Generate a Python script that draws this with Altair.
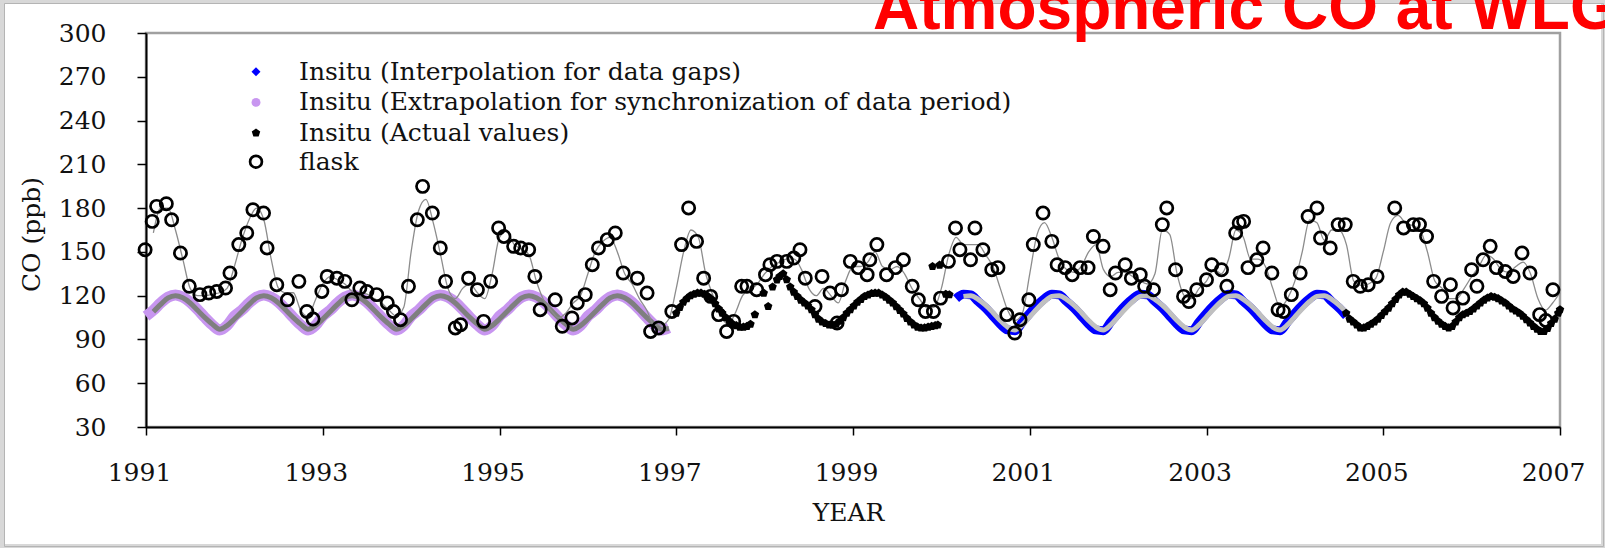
import altair as alt
import pandas as pd

# ---------------- layout ----------------
W, H = 1414, 394
PAD = {"left": 146, "top": 33, "right": 45, "bottom": 121}
FONT = "DejaVu Serif"
FS = 25

TITLE = "Atmospheric CO at WLG"
X_TICKS = [1991, 1993, 1995, 1997, 1999, 2001, 2003, 2005, 2007]
Y_TICKS = [30, 60, 90, 120, 150, 180, 210, 240, 270, 300]
LEGEND_LABELS = [
    "Insitu (Interpolation for data gaps)",
    "Insitu (Extrapolation for synchronization of data period)",
    "Insitu (Actual values)",
    "flask",
]


def months(start_year, first_month, n):
    return [round(start_year + (first_month + i) / 12, 4) for i in range(n)]


# ---------------- data ----------------
# purple: extrapolated insitu, monthly 1991.0 - 1996.92
PURPLE_YEAR = months(1991, 0, 72)
PURPLE_CO = [
    106, 110, 115, 119, 120.5, 119, 115.5, 110.5, 105, 100, 96.5, 99.5,
    106, 110, 115, 119, 120.5, 119, 115.5, 110.5, 105, 100, 96.5, 99.5,
    106, 110, 115, 119, 120.5, 119, 115.5, 110.5, 105, 100, 96.5, 99.5,
    106, 110, 115, 119, 120.5, 119, 115.5, 110.5, 105, 100, 96.5, 99.5,
    106, 110, 115, 119, 120.5, 119, 115.5, 110.5, 105, 100, 96.5, 99.5,
    106, 110, 115, 119, 120.5, 119, 115.5, 110.5, 105, 100, 96.5, 98,
]
# dark grey smooth curve, monthly 1991.08 - 1996.92
DARK_YEAR = months(1991, 1, 71)
DARK_CO = [
    109, 114, 118.5, 120, 118.5, 115, 110, 105, 100.5, 97, 99.5,
    104, 109, 114, 118.5, 120, 118.5, 115, 110, 105, 100.5, 97, 99.5,
    104, 109, 114, 118.5, 120, 118.5, 115, 110, 105, 100.5, 97, 99.5,
    104, 109, 114, 118.5, 120, 118.5, 115, 110, 105, 100.5, 97, 99.5,
    104, 109, 114, 118.5, 120, 118.5, 115, 110, 105, 100.5, 97, 99.5,
    104, 109, 114, 118.5, 120, 118.5, 115, 110, 105, 100.5, 97, 97.5,
]
# blue: interpolated insitu, monthly 2000.17 - 2004.58
BLUE_YEAR = months(2000, 2, 54)
BLUE_CO = [
    118, 121, 120.5, 116, 111.5, 106, 100.5, 96.5, 96, 102,
    108, 113.5, 118, 121, 120.5, 116, 111.5, 106, 100.5, 96.5, 96, 102,
    108, 113.5, 118, 121, 120.5, 116, 111.5, 106, 100.5, 96.5, 96, 102,
    108, 113.5, 118, 121, 120.5, 116, 111.5, 106, 100.5, 96.5, 96, 102,
    108, 113.5, 118, 121, 120.5, 116, 111.5, 106,
]
# light grey smooth curve, monthly 2000.25 - 2004.58
LIGHT_YEAR = months(2000, 3, 53)
LIGHT_CO = [
    119.5, 120, 117.5, 113.5, 108.5, 103, 98.5, 96.5, 100,
    105.5, 111, 116, 119.5, 120, 117.5, 113.5, 108.5, 103, 98.5, 96.5, 100,
    105.5, 111, 116, 119.5, 120, 117.5, 113.5, 108.5, 103, 98.5, 96.5, 100,
    105.5, 111, 116, 119.5, 120, 117.5, 113.5, 108.5, 103, 98.5, 96.5, 100,
    105.5, 111, 116, 119.5, 120, 117.5, 113.5, 108.5,
]
# black: actual insitu values
INSITU_YEAR = [
    1997.00, 1997.04, 1997.08, 1997.12, 1997.16, 1997.20, 1997.24, 1997.28, 1997.32, 1997.36,
    1997.40, 1997.44, 1997.48, 1997.52, 1997.56, 1997.60, 1997.64, 1997.68, 1997.72, 1997.76,
    1997.80, 1997.84, 1997.89, 1997.99, 1998.04, 1998.09, 1998.14, 1998.17, 1998.21, 1998.25,
    1998.29, 1998.33, 1998.37, 1998.41, 1998.45, 1998.49, 1998.53, 1998.57, 1998.61, 1998.65,
    1998.69, 1998.73, 1998.77, 1998.81, 1998.85, 1998.89, 1998.93, 1998.97, 1999.01, 1999.05,
    1999.09, 1999.13, 1999.17, 1999.21, 1999.25, 1999.29, 1999.33, 1999.37, 1999.41, 1999.45,
    1999.49, 1999.53, 1999.57, 1999.61, 1999.65, 1999.69, 1999.73, 1999.77, 1999.81, 1999.85,
    1999.89, 1999.93, 1999.96, 1999.90, 1999.98, 2000.05, 2000.09,
    2004.58, 2004.62, 2004.66, 2004.70, 2004.74, 2004.78, 2004.82, 2004.86, 2004.90, 2004.94,
    2004.98, 2005.02, 2005.06, 2005.10, 2005.14, 2005.18, 2005.22, 2005.26, 2005.30, 2005.34,
    2005.38, 2005.42, 2005.46, 2005.50, 2005.54, 2005.58, 2005.62, 2005.66, 2005.70, 2005.74,
    2005.78, 2005.82, 2005.86, 2005.90, 2005.94, 2005.98, 2006.02, 2006.06, 2006.10, 2006.14,
    2006.18, 2006.22, 2006.26, 2006.30, 2006.34, 2006.38, 2006.42, 2006.46, 2006.50, 2006.54,
    2006.58, 2006.62, 2006.66, 2006.70, 2006.74, 2006.78, 2006.82, 2006.86, 2006.90, 2006.94,
    2006.98, 2007.00,
]
INSITU_CO = [
    108, 112, 115.5, 118, 120, 121, 121.8, 121.8, 121, 119.5,
    117.5, 114.5, 111, 108, 105, 102.5, 100.5, 99.5, 98.5, 98.5,
    99, 100.5, 107, 121.8, 112.6, 126, 130.9, 133.2, 135, 131,
    126, 122.5, 119.5, 117, 115, 113, 110.4, 107, 104, 102,
    101, 100, 100, 100.5, 102.5, 105, 108, 110.4, 113, 115.5,
    117.5, 119.5, 120.5, 121.5, 121.8, 121.8, 120.5, 119, 117, 115,
    112.5, 110, 107.5, 104.5, 102, 100, 98.5, 97.9, 98, 98.5,
    99, 99.5, 100, 140, 141, 121, 120.7,
    108, 104, 102, 100, 98, 98, 99, 100.5, 102, 104,
    106.5, 109, 111.5, 114.5, 117.5, 120.5, 122.5, 122.5, 121, 119.5,
    118, 116.5, 114.5, 111.5, 108, 105, 102.5, 100.5, 99, 98,
    99, 102, 105, 107, 108, 109.2, 111, 113, 115, 117,
    118.5, 119.5, 119, 118, 116.5, 115, 113, 111, 109.5, 108,
    106, 103.5, 101.3, 99, 97, 95.5, 95.5, 97.5, 101, 104,
    108, 110.4,
]
# flask samples
FLASK_YEAR = [
    1990.99, 1991.07, 1991.12, 1991.23, 1991.29, 1991.39, 1991.49, 1991.61, 1991.71, 1991.80,
    1991.90, 1991.95, 1992.05, 1992.14, 1992.21, 1992.33, 1992.37, 1992.48, 1992.60, 1992.73,
    1992.82, 1992.89, 1992.99, 1993.05, 1993.16, 1993.25, 1993.33, 1993.42, 1993.50, 1993.61,
    1993.73, 1993.80, 1993.88, 1993.97, 1994.07, 1994.13, 1994.24, 1994.33, 1994.39, 1994.50,
    1994.56, 1994.65, 1994.75, 1994.82, 1994.90, 1994.99, 1995.05, 1995.16, 1995.24, 1995.33,
    1995.40, 1995.46, 1995.63, 1995.71, 1995.82, 1995.88, 1995.97, 1996.05, 1996.12, 1996.22,
    1996.31, 1996.40, 1996.56, 1996.67, 1996.71, 1996.80, 1996.95, 1997.06, 1997.14, 1997.23,
    1997.31, 1997.39, 1997.48, 1997.57, 1997.65, 1997.74, 1997.80, 1997.91, 1998.01, 1998.06,
    1998.14, 1998.25, 1998.33, 1998.40, 1998.46, 1998.57, 1998.65, 1998.74, 1998.82, 1998.87,
    1998.97, 1999.06, 1999.16, 1999.19, 1999.27, 1999.38, 1999.48, 1999.57, 1999.67, 1999.74,
    1999.82, 1999.91, 1999.99, 2000.08, 2000.16, 2000.21, 2000.33, 2000.38, 2000.47, 2000.57,
    2000.64, 2000.74, 2000.83, 2000.89, 2000.99, 2001.04, 2001.15, 2001.25, 2001.31, 2001.40,
    2001.48, 2001.57, 2001.66, 2001.72, 2001.83, 2001.91, 2001.97, 2002.08, 2002.15, 2002.25,
    2002.30, 2002.40, 2002.50, 2002.55, 2002.65, 2002.74, 2002.80, 2002.89, 2003.00, 2003.06,
    2003.17, 2003.23, 2003.33, 2003.37, 2003.42, 2003.47, 2003.57, 2003.64, 2003.74, 2003.81,
    2003.87, 2003.96, 2004.06, 2004.15, 2004.25, 2004.29, 2004.40, 2004.49, 2004.57, 2004.66,
    2004.74, 2004.83, 2004.93, 2005.13, 2005.23, 2005.34, 2005.41, 2005.49, 2005.57, 2005.66,
    2005.76, 2005.79, 2005.90, 2006.00, 2006.06, 2006.13, 2006.21, 2006.28, 2006.38, 2006.47,
    2006.57, 2006.66, 2006.77, 2006.84, 2006.92,
]
FLASK_CO = [
    151.5, 170.9, 181.2, 183, 172, 149.2, 126.4, 120.7, 121.8, 122.9,
    125.2, 135.5, 155, 163, 178.9, 176.6, 152.7, 127.5, 117.2, 129.8,
    109.2, 104, 122.9, 133.2, 132, 129.8, 117.2, 125.2, 122.9, 120.7,
    115, 109.2, 103.5, 126.4, 172, 194.9, 176.6, 152.7, 129.8, 97.9,
    100.1, 132, 124.1, 102.4, 129.8, 166.4, 160.6, 153.8, 152.7, 151.5,
    133.2, 110.4, 117.2, 99, 104.7, 115, 120.7, 141.2, 152.7, 158.4,
    163, 135.5, 132, 121.8, 95.5, 97.9, 109.2, 155, 180.1, 157.2,
    132, 119.5, 107, 95.5, 102.4, 126.4, 126.4, 124.1, 134.4, 141.2,
    143.5, 143.5, 145.8, 151.5, 132, 112.6, 133.2, 121.8, 101.3, 124.1,
    143.5, 139.2, 134.4, 144.6, 155, 134.4, 139.2, 144.6, 126.4, 117.2,
    109.2, 109.2, 118.3, 143.5, 166.4, 151.5, 144.6, 166.4, 151.5, 137.8,
    139.2, 107, 94.4, 103.5, 117.2, 155, 176.6, 157.2, 141.2, 139.2,
    134.4, 139.2, 139.2, 160.6, 153.8, 124.1, 135.5, 141.2, 132, 134.4,
    126.4, 124.1, 168.7, 180.1, 137.8, 119.5, 116, 124.1, 130.9, 141.2,
    137.8, 126.4, 163, 169.8, 170.9, 139.2, 144.6, 152.7, 135.5, 110.4,
    109.2, 120.7, 135.5, 174.3, 180.1, 159.5, 152.7, 168.7, 168.7, 129.8,
    126.4, 127.5, 133.2, 180.1, 166.4, 168.7, 168.7, 160.6, 129.8, 119.5,
    127.5, 111.6, 118.3, 137.8, 126.4, 144.6, 153.8, 139.2, 136.6, 133.2,
    149.2, 135.5, 107, 103, 124.1,
]
# thin grey curve through flask data, monthly 1991.08 - 2007.0
FLASK_CURVE_YEAR = months(1991, 1, 192)
FLASK_CURVE_CO = [
    163, 180, 180, 165, 145, 125, 120, 120, 121, 122, 125,
    140, 158, 172, 180, 172, 145, 125, 122, 122, 110, 106, 117,
    128, 133, 131, 128, 123, 122, 121, 118, 115, 110, 106, 112,
    150, 178, 186, 170, 148, 125, 118, 125, 128, 122, 118, 135,
    160, 164, 155, 152, 148, 130, 117, 110, 105, 108, 115, 120,
    135, 150, 157, 160, 150, 135, 128, 118, 110, 100, 100, 104,
    125, 150, 165, 160, 135, 120, 108, 100, 108, 120, 124, 128,
    135, 140, 143, 145, 145, 138, 125, 120, 125, 120, 115, 130,
    140, 140, 143, 150, 140, 138, 140, 135, 125, 118, 112, 112,
    125, 148, 160, 155, 155, 155, 148, 140, 125, 110, 103, 108,
    135, 162, 170, 160, 145, 138, 136, 140, 150, 155, 138, 133,
    136, 136, 133, 130, 128, 135, 165, 162, 135, 120, 118, 125,
    130, 138, 135, 145, 165, 160, 145, 145, 140, 125, 112, 118,
    130, 150, 172, 170, 158, 165, 165, 155, 130, 127, 128, 132,
    150, 170, 175, 170, 168, 165, 150, 130, 125, 118, 118, 125,
    133, 140, 148, 145, 138, 136, 140, 143, 135, 118, 110, 115,
    122,
]

# ---------------- encodings ----------------
x_axis = alt.Axis(
    values=X_TICKS, format="d", grid=False, labelFont=FONT, labelFontSize=FS,
    labelColor="#111111", labelPadding=25, labelOffset=-7, labelFlush=False,
    labelOverlap=False, tickSize=8, tickWidth=1.5, tickColor="#000000",
    domainColor="#000000", domainWidth=2, title="YEAR", titleFont=FONT,
    titleFontSize=FS, titleFontWeight="normal", titleColor="#111111",
    titleX=702, titleY=85, titleAlign="center", titleBaseline="middle",
)
y_axis = alt.Axis(
    values=Y_TICKS, grid=False, labelFont=FONT, labelFontSize=FS,
    labelColor="#111111", labelPadding=31, labelFlush=False, labelOverlap=False,
    tickSize=9, tickWidth=1.5, tickColor="#000000", domainColor="#000000",
    domainWidth=2, title="CO (ppb)", titleFont=FONT, titleFontSize=FS,
    titleFontWeight="normal", titleColor="#111111", titleX=-115, titleY=201,
    titleAngle=270, titleAlign="center", titleBaseline="middle",
)
X = alt.X("year:Q", scale=alt.Scale(domain=[1991, 2007], nice=False, zero=False), axis=x_axis)
Y = alt.Y("co:Q", scale=alt.Scale(domain=[30, 300], nice=False, zero=False), axis=y_axis)


def frame(years, values):
    return pd.DataFrame({"year": years, "co": values})


one = pd.DataFrame({"k": [0]})

outer = alt.Chart(one).mark_rect(fillOpacity=0, stroke="#d8d8d8", strokeWidth=8).encode(
    x=alt.value(-146), x2=alt.value(1459), y=alt.value(-33), y2=alt.value(515))
inner = alt.Chart(one).mark_rect(fillOpacity=0, stroke="#b4b4b4", strokeWidth=1).encode(
    x=alt.value(-141.5), x2=alt.value(1457.5), y=alt.value(-29.5), y2=alt.value(513.5))

purple = alt.Chart(frame(PURPLE_YEAR, PURPLE_CO)).mark_line(
    color="#c896f0", strokeWidth=11, interpolate="monotone").encode(x=X, y=Y)
dark = alt.Chart(frame(DARK_YEAR, DARK_CO)).mark_line(
    color="#7f7f7f", strokeWidth=5, interpolate="monotone").encode(x=X, y=Y)
blue = alt.Chart(frame(BLUE_YEAR, BLUE_CO)).mark_line(
    color="#0000ff", strokeWidth=9, interpolate="monotone").encode(x=X, y=Y)
light = alt.Chart(frame(LIGHT_YEAR, LIGHT_CO)).mark_line(
    color="#c0c0c0", strokeWidth=5, interpolate="monotone").encode(x=X, y=Y)
flask_line = alt.Chart(frame(FLASK_CURVE_YEAR, FLASK_CURVE_CO)).mark_line(
    color="#8c8c8c", strokeWidth=1.3, interpolate="monotone").encode(x=X, y=Y)

PENTAGON = "M0,-1L0.95,-0.31L0.59,0.81L-0.59,0.81L-0.95,-0.31Z"
insitu = alt.Chart(frame(INSITU_YEAR, INSITU_CO)).mark_point(
    shape=PENTAGON, filled=True, color="#000000", size=80, opacity=1).encode(x=X, y=Y)
flask = alt.Chart(frame(FLASK_YEAR, FLASK_CO)).mark_point(
    shape="circle", filled=False, color="#000000", size=150, strokeWidth=2.7,
    opacity=1).encode(x=X, y=Y)

# legend (manual)
LEG_X, TXT_X = 110, 153
LEG_Y = [38.7, 69.4, 100, 128.7]
leg_marks = [
    dict(shape="diamond", filled=True, color="#0000ff", size=80),
    dict(shape="circle", filled=True, color="#c896f0", size=80),
    dict(shape=PENTAGON, filled=True, color="#000000", size=80),
    dict(shape="circle", filled=False, color="#000000", size=140, strokeWidth=2.7),
]
legend_layers = []
for i, lab in enumerate(LEGEND_LABELS):
    legend_layers.append(
        alt.Chart(one).mark_point(opacity=1, **leg_marks[i]).encode(
            x=alt.value(LEG_X), y=alt.value(LEG_Y[i])))
    legend_layers.append(
        alt.Chart(pd.DataFrame({"label": [lab]})).mark_text(
            align="left", baseline="middle", font=FONT, fontSize=FS, color="#111111").encode(
            x=alt.value(TXT_X), y=alt.value(LEG_Y[i]), text="label:N"))

title = alt.Chart(pd.DataFrame({"t": [TITLE]})).mark_text(
    align="left", baseline="alphabetic", font="Liberation Sans", fontWeight="bold",
    fontSize=64, color="#ff0000").encode(x=alt.value(727), y=alt.value(-4), text="t:N")

chart = alt.layer(
    outer, inner, purple, dark, blue, light, flask_line, insitu, flask,
    *legend_layers, title,
).properties(
    width=W, height=H, padding=PAD, autosize=alt.AutoSizeParams(type="none"),
    background="#ffffff",
).configure_view(stroke="#a0a0a0", strokeWidth=2.5)

chart.save("out.html", embed_options={"renderer": "svg", "actions": False})
